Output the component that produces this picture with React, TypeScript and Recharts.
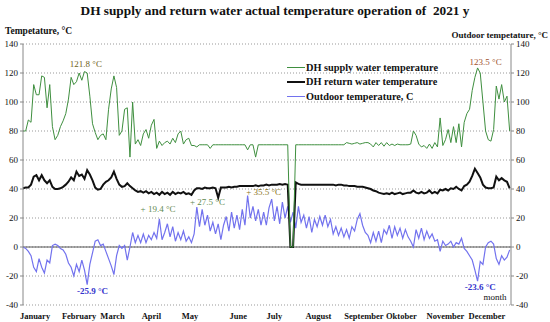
import React from 'react';
import {
  LineChart, Line, XAxis, YAxis, CartesianGrid, ReferenceLine, ReferenceDot,
} from 'recharts';

// values, one point every 2 days of 2021
const supplyTemp = [
  80, 80, 87.6, 86, 112, 105, 105, 118, 117, 96,
  112, 83, 74, 77, 83, 87, 92, 102, 117, 112,
  114, 120, 115, 121, 120, 104, 85, 79, 74, 77,
  78, 74, 95, 109, 118, 110, 77, 80, 95, 96,
  62, 100, 71, 74, 70, 78, 81, 75, 84, 88,
  68, 73, 70, 72, 73, 71, 75, 72, 78, 80,
  71, 74, 75, 70, 70, 69, 70.5, 70.5, 70.5, 70.5,
  68, 70.5, 70.5, 70.5, 70.5, 70.5, 70.5, 70.5, 70.5, 70.5,
  70.5, 70.5, 70.5, 70.5, 67, 70.5, 70.5, 62, 70.5, 70.5,
  70.5, 70.5, 70.5, 70.5, 70.5, 70.5, 70.5, 70.5, 70.5, 70.5,
  0, 0,
  70.5, 70.5, 70.5, 70.5, 70.5, 70.5, 70.5, 70.5,
  70.5, 70.5, 70.5, 70.5, 70.5, 70.5, 70.5, 70.5, 70.5, 70.5,
  70.5,
  72, 71.5, 71, 71.5, 72, 71, 71.5, 72, 72, 71,
  69, 72, 70, 72, 69.5, 72, 70, 71, 70, 71,
  70.5, 70.5, 70.5, 70.5, 71, 80, 77, 71, 69, 70,
  68, 71, 68, 72, 69, 89, 70, 74, 81, 72,
  83, 72, 85, 69, 86, 92, 95, 108, 117, 123.5,
  120, 100, 80, 74, 73, 81, 111, 102, 112, 100,
  104, 80,
];

const returnTemp = [
  40.5, 41, 41, 43, 48.5, 49.5, 46, 49.5, 46, 44,
  46, 41.5, 40, 40, 40.5, 41.5, 43, 45, 48, 46,
  52, 49, 50, 47, 53, 50, 46, 41, 39.5, 40,
  43, 45, 46, 48, 52, 47, 43, 41.5, 42, 44,
  42, 40.5, 39, 38, 38.5, 37.5, 38.5, 37, 38, 36.5,
  37.5, 36, 38, 36.5, 37.5, 36, 38, 36.5, 37.5, 37,
  38, 36.5, 37, 36, 39, 40.5, 40.5, 40, 41, 40.5,
  40.5, 41, 40.5, 34, 41, 41, 41, 41.5, 41, 41.5,
  41.5, 42, 42, 42, 42, 42, 42, 42.5, 42, 42.5,
  42.5, 43, 42.5, 43, 43, 43, 43.5, 43, 43.5, 43,
  0, 0,
  44.5, 43.5, 43, 43, 43, 43, 43, 43, 43,
  43, 43, 43, 43, 43, 43, 42.5, 43, 43, 42.5,
  42.5, 42, 42, 42, 41.5, 41.5, 41.5, 41, 40.5, 40,
  39, 38.5, 37.5, 37, 36.5, 37, 36.5, 37.5, 36.5, 37,
  37.5, 36.5, 37, 37.5, 37.5, 39, 37.5, 37, 38, 37,
  37.5, 39, 37, 38, 37, 39.5, 39, 40, 39, 40.5,
  40, 41.5, 40, 39, 42, 43, 45, 49, 54, 51,
  48, 43, 41, 40.5, 40.5, 41, 48.5, 46, 47.5, 46,
  45, 40.5,
];

const outdoorTemp = [
  0, -1, -3, -6, -14, -17, -8, -14, -18, -9,
  -11, 1, 2, 1, -1, -2, -5, -11, -14, -20,
  -12, -17, -9, -16, -25.9, -12, -4, 4, 5, 1,
  2, -3, -8, -13, -19, -6, 1, -1, 1, -9,
  0, 10, 3, 8, 3, 9, 3, 8, 5, 10,
  6, 19.4, 5, 10, 16, 7, 14, 4, 10, 5,
  11, 4, 7, 3, 9, 27.5, 14, 26, 15, 22,
  11, 17, 9, 16, 5, 15, 21, 11, 24, 13,
  22, 12, 26, 15, 35.5, 20, 28, 18, 26, 15,
  24, 15, 27, 33, 18, 28, 16, 31, 20, 28,
  17, 24, 13, 28, 17, 22, 13, 21, 10, 19,
  14, 21, 15, 22, 14, 19, 9, 14, 8, 13,
  7, 12, 6, 14, 11, 19, 23, 15, 10, 8,
  3, 10, 4, 11, 3, 12, 9, 15, 6, 14,
  8, 13, 6, 12, 7, 4, 0, 12, 6, 13,
  5, 11, 6, 9, 4, 5, -3, 4, 1, 2,
  4, 0, 3, 2, 6, -1, -3, -6, -9, -16,
  -23.6, -10, -12, 0, 3, 4, 2, -8, -12, -6,
  -9, -7, -2,
];

const monthDays = [9, 42, 67, 96, 125, 161, 188, 221, 255, 283, 316, 347];
const monthNames = [
  'January', 'February', 'March', 'April', 'May', 'June',
  'July', 'August', 'September', 'Oktober', 'November', 'December',
];
const tempTicks = [140, 120, 100, 80, 60, 40, 20, 0, -20, -40];

// peak notes: day, temperature where the text sits
const notes = [
  { day: 47, temp: 126, text: '121.8 °C', color: '#6e6020', bold: false },
  { day: 346, temp: 127.6, text: '123.5 °C', color: '#a0522d', bold: false },
  { day: 52, temp: -30, text: '-25.9 °C', color: '#3333cc', bold: true },
  { day: 342, temp: -27.6, text: '-23.6 °C', color: '#3333cc', bold: true },
  { day: 101, temp: 26, text: '+ 19.4 °C', color: '#5f8a4f', bold: false },
  { day: 138, temp: 31, text: '+ 27.5 °C', color: '#5f8a4f', bold: false },
  { day: 180, temp: 38, text: '+ 35.5 °C', color: '#8a7420', bold: false },
];

const data = supplyTemp.map((s, i) => ({
  day: i * 2,
  supply: s,
  ret: returnTemp[i],
  outdoor: outdoorTemp[i],
}));

const FONT = '"Liberation Serif", "Times New Roman", serif';
const GREEN = '#3f8f3f';
const BLUE = '#7272ee';

const legendItems = [
  { label: 'DH supply water temperature', color: GREEN, w: 1 },
  { label: 'DH return water temperature', color: '#111', w: 2 },
  { label: 'Outdoor temperature, C', color: BLUE, w: 1 },
];

export default function App() {
  return (
    <div style={{ position: 'absolute', left: 0, top: 0, width: 550, height: 322, background: '#fff', fontFamily: FONT }}>
      <style>{`.recharts-wrapper text { font-family: ${FONT}; }`}</style>
      <div style={{ position: 'absolute', left: 0, top: 3, width: 550, textAlign: 'center', fontWeight: 'bold', fontSize: 13.3, color: '#111' }}>
        DH supply and return water actual temperature operation of&nbsp; 2021 y
      </div>
      <div style={{ position: 'absolute', left: 5, top: 26, fontWeight: 'bold', fontSize: 9.5, color: '#111' }}>
        Tempetature, °C
      </div>
      <div style={{ position: 'absolute', right: 2, top: 30, fontWeight: 'bold', fontSize: 9, color: '#111' }}>
        Outdoor tempetature, °C
      </div>
      <LineChart width={550} height={322} data={data} margin={{ top: 44, right: 0, bottom: 0, left: 0 }}>
        <CartesianGrid yAxisId="left" vertical={false} stroke="#999" strokeDasharray="1 2" />
        <XAxis
          type="number"
          dataKey="day"
          domain={[0, 365]}
          ticks={monthDays}
          tickFormatter={(v: number) => monthNames[monthDays.indexOf(v)]}
          axisLine={false}
          tickLine={false}
          height={17}
          interval={0}
          tick={{ fontSize: 8.5, fontWeight: 'bold', fill: '#111' }}
        />
        <YAxis
          yAxisId="left"
          domain={[-40, 140]}
          ticks={tempTicks}
          width={23}
          tickSize={3}
          axisLine={{ stroke: '#888' }}
          tickLine={{ stroke: '#888' }}
          tick={{ fontSize: 9, fill: '#111' }}
        />
        <YAxis
          yAxisId="right"
          orientation="right"
          domain={[-40, 140]}
          ticks={tempTicks}
          width={39}
          tickSize={3}
          axisLine={{ stroke: '#888' }}
          tickLine={{ stroke: '#888' }}
          tick={{ fontSize: 9, fill: '#111', textAnchor: 'start' }}
        />
        <ReferenceLine yAxisId="left" y={0} stroke="#555" />
        <Line yAxisId="right" dataKey="outdoor" stroke={BLUE} strokeWidth={1.2} dot={false} isAnimationActive={false} />
        <Line yAxisId="left" dataKey="ret" stroke="#111" strokeWidth={2} dot={false} isAnimationActive={false} />
        <Line yAxisId="left" dataKey="supply" stroke={GREEN} strokeWidth={1} dot={false} isAnimationActive={false} />
        {notes.map((n) => (
          <ReferenceDot
            key={n.text}
            yAxisId="left"
            x={n.day}
            y={n.temp}
            r={0}
            stroke="none"
            label={{ value: n.text, position: 'center', fill: n.color, fontSize: 9, fontWeight: n.bold ? 'bold' : 'normal' }}
          />
        ))}
        <ReferenceDot
          yAxisId="left"
          x={353}
          y={-34.5}
          r={0}
          stroke="none"
          label={{ value: 'month', position: 'center', fill: '#111', fontSize: 9 }}
        />
      </LineChart>
      <div style={{ position: 'absolute', left: 287, top: 60, fontSize: 10.3, fontWeight: 'bold', color: '#111' }}>
        {legendItems.map((it) => (
          <div key={it.label} style={{ display: 'flex', alignItems: 'center', height: 14.5 }}>
            <span style={{ display: 'inline-block', width: 18, height: it.w, background: it.color, marginRight: 1 }} />
            <span>{it.label}</span>
          </div>
        ))}
      </div>
    </div>
  );
}
